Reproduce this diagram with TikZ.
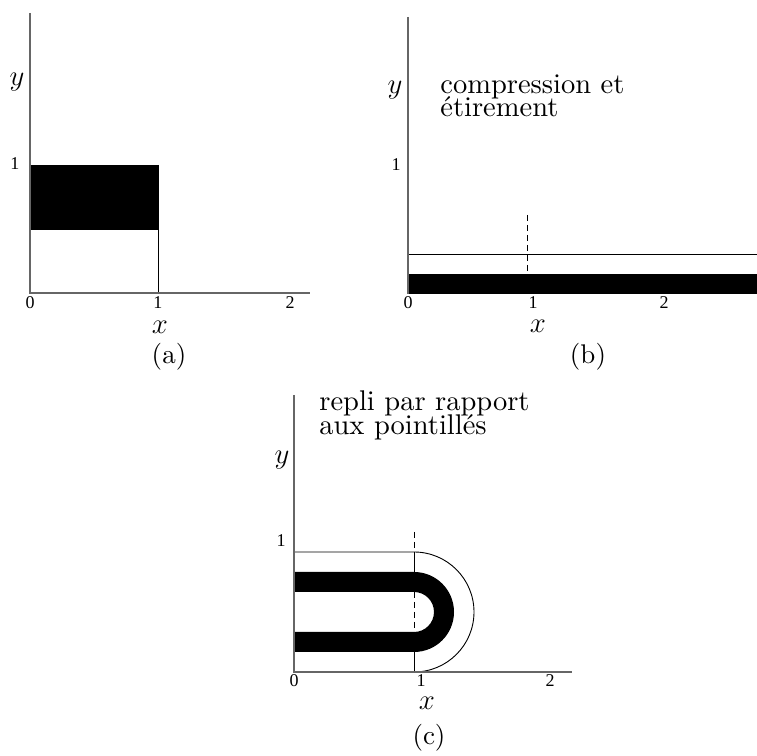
\documentclass[tikz,border=0pt]{standalone}
\usepackage{fontspec}
\newfontfamily\tickfont{Liberation Serif}
\newfontfamily\tenrm{lmroman10-regular.otf}
\begin{document}
\begin{tikzpicture}[x=0.5pt,y=0.5pt,
  axis/.style={draw=black!60,line width=0.8pt},
  outl/.style={draw=black,line width=0.45pt},
  dsh/.style={draw=black,line width=0.5pt,dash pattern=on 3pt off 2pt},
  tick/.style={font=\tickfont\fontsize{9pt}{10pt}\selectfont,inner sep=0pt},
  lab/.style={font=\tenrm\fontsize{13.5pt}{14pt}\selectfont,inner sep=0pt},
  txt/.style={font=\tenrm\fontsize{14.25pt}{15pt}\selectfont,inner sep=0pt,anchor=base west}]
\useasboundingbox (0,0) rectangle (757,756);
% ---------- (a) ----------
\fill[black] (30,591) rectangle (158,526);
\draw[outl] (158,591) -- (158,463);
\draw[axis] (30,743) -- (30,463) -- (310,463);
\node[tick] (a0) at (30,453) {0};
\node[tick] (a1) at (158,453) {1};
\node[tick] (a2) at (290,453) {2};
\node[tick] (ay1) at (15,592) {1};
\node[lab] (ay) at (17,674) {$y$};
\node[lab] (ax) at (160,429) {$x$};
\node[lab] (acap) at (169,399) {(a)};
% ---------- (b) ----------
\fill[black] (408,482) rectangle (757,462);
\draw[outl] (757,502) -- (408,502) -- (408,482);
\draw[dsh] (527,541) -- (527,482);
\draw[axis] (408,739) -- (408,462);
\node[tick] (b0) at (408,453) {0};
\node[tick] (b1) at (533,453) {1};
\node[tick] (b2) at (664,453) {2};
\node[tick] (by1) at (396,591) {1};
\node[lab,anchor=base] (by) at (395,662) {$y$};
\node[txt] (bt1) at (440,662) {compression et};
\node[txt] (bt2) at (440,639) {étirement};
\node[lab] (bx) at (538,430) {$x$};
\node[lab] (bcap) at (588,399) {(b)};
% ---------- (c) ----------
\fill[black] (294,184) -- (414,184) arc[start angle=90,end angle=-90,radius=40]
  -- (294,104) -- (294,124) -- (414,124) arc[start angle=-90,end angle=90,radius=20]
  -- (294,164) -- cycle;
\draw[outl] (294,204) -- (414,204) arc[start angle=90,end angle=-90,radius=60];
\draw[outl] (414,204) -- (414,184);
\draw[outl] (414,104) -- (414,84);
\draw[dsh] (414,224) -- (414,84);
\draw[axis] (294,361) -- (294,84) -- (572,84);
\node[tick] (c0) at (294,75) {0};
\node[tick] (c1) at (421,75) {1};
\node[tick] (c2) at (550,75) {2};
\node[tick] (cy1) at (281,215) {1};
\node[lab] (cy) at (282,296) {$y$};
\node[txt] (ct1) at (319,345) {repli par rapport};
\node[txt] (ct2) at (319,321) {aux pointillés};
\node[lab] (cx) at (427,53) {$x$};
\node[lab] (ccap) at (429,18) {(c)};
\end{tikzpicture}
\end{document}
